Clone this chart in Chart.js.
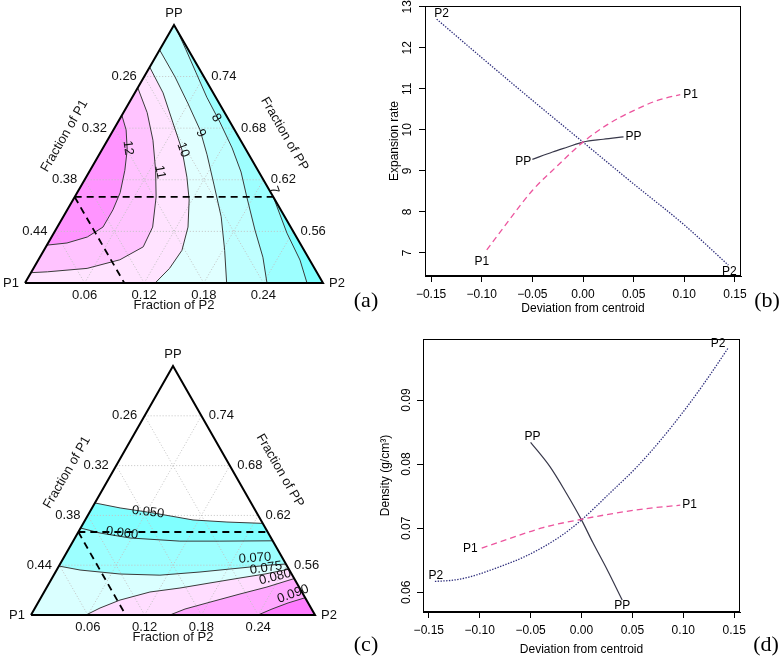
<!DOCTYPE html>
<html>
<head>
<meta charset="utf-8">
<title>Mixture design: expansion rate and density</title>
<script src="https://cdn.jsdelivr.net/npm/chart.js"></script>
<style>
html,body{margin:0;padding:0;background:#ffffff;}
#fig{position:relative;width:780px;height:661px;overflow:hidden;background:#ffffff;}
#fig canvas{position:absolute;display:block;}
.tag{position:absolute;font-family:"Liberation Serif","Times New Roman",serif;font-size:22px;line-height:22px;color:#000;transform:translate(-50%,-50%);white-space:nowrap;}
</style>
</head>
<body>
<div id="fig">
  <canvas id="chartA" width="370" height="320" style="left:0px;top:0px"></canvas>
  <canvas id="chartB" width="410" height="320" style="left:370px;top:0px"></canvas>
  <canvas id="chartC" width="370" height="331" style="left:0px;top:330px"></canvas>
  <canvas id="chartD" width="410" height="331" style="left:370px;top:330px"></canvas>
  <div class="tag" style="left:366px;top:300px">(a)</div>
  <div class="tag" style="left:767px;top:300px">(b)</div>
  <div class="tag" style="left:366px;top:644px">(c)</div>
  <div class="tag" style="left:766px;top:644px">(d)</div>
</div>
<script>
// ================= DATA =================
// Ternary design region (lower-bounded simplex: P1 >= 0.20, P2 >= 0, PP >= 0.50)
const TERN_MIN_P1 = 0.20, TERN_MIN_P2 = 0.00, TERN_MIN_PP = 0.50, TERN_RANGE = 0.30;
const ternP1Ticks = [0.26, 0.32, 0.38, 0.44];
const ternP2Ticks = [0.06, 0.12, 0.18, 0.24];
const ternPPTicks = [0.56, 0.62, 0.68, 0.74];
// dashed trace lines through the centroid, points as [fraction of P2, fraction of PP]
const tracePP = [[0.00, 0.60], [0.20, 0.60]];
const traceP1 = [[0.00, 0.60], [0.10, 0.50]];

// (a) expansion-rate contours, points as [fraction of P2, fraction of PP]
const expLevels = [7, 8, 9, 10, 11, 12];
const expC7  = [[0.200,0.600],[0.2347,0.558],[0.2635,0.5267],[0.2839,0.500]];
const expC8  = [[0.006,0.794],[0.0266,0.771],[0.0495,0.745],[0.075,0.716],[0.1027,0.687],[0.130,0.657],[0.153,0.629],[0.174,0.599],[0.2007,0.5616],[0.2245,0.530],[0.2436,0.500]];
const expC9  = [[0.000,0.771],[0.0313,0.7395],[0.0594,0.709],[0.0872,0.678],[0.1088,0.649],[0.1333,0.614],[0.159,0.577],[0.182,0.538],[0.203,0.500]];
const expC10 = [[0.000,0.751],[0.0285,0.721],[0.056,0.686],[0.0807,0.6547],[0.1015,0.623],[0.117,0.5965],[0.1316,0.565],[0.139,0.538],[0.137,0.517],[0.131,0.500]];
const expC11 = [[0.000,0.727],[0.024,0.698],[0.0458,0.666],[0.066,0.631],[0.082,0.600],[0.096,0.565],[0.098,0.542],[0.082,0.527],[0.054,0.517],[0.016,0.513],[0.000,0.512]];
const expC12 = [[0.000,0.695],[0.0128,0.678],[0.0254,0.655],[0.035,0.631],[0.0433,0.605],[0.046,0.585],[0.046,0.565],[0.036,0.5535],[0.019,0.5465],[0.000,0.544]];
const expContours = [expC7, expC8, expC9, expC10, expC11, expC12];

// (c) density contours, points as [fraction of P2, fraction of PP]
const denLevels = [0.050, 0.060, 0.070, 0.075, 0.080, 0.090];
const denC050 = [[0.000,0.635],[0.0296,0.629],[0.0674,0.623],[0.1139,0.6145],[0.151,0.612],[0.1896,0.6104]];
const denC060 = [[0.000,0.6048],[0.0235,0.5988],[0.0582,0.5928],[0.1128,0.589],[0.155,0.589],[0.2106,0.5894]];
const denC070 = [[0.000,0.559],[0.0247,0.5542],[0.0693,0.5494],[0.1122,0.548],[0.1526,0.5518],[0.1925,0.5566],[0.2223,0.5602],[0.2386,0.5614]];
const denC075 = [[0.0581,0.500],[0.0687,0.5084],[0.085,0.518],[0.1118,0.5277],[0.1411,0.5325],[0.1698,0.5386],[0.1985,0.5446],[0.2225,0.5494],[0.2448,0.5552]];
const denC080 = [[0.1468,0.500],[0.1591,0.5072],[0.1787,0.5145],[0.2081,0.5253],[0.2324,0.5337],[0.2561,0.5439]];
const denC090 = [[0.2398,0.500],[0.251,0.5072],[0.2643,0.5145],[0.2792,0.5208]];
const denContours = [denC050, denC060, denC070, denC075, denC080, denC090];

// (b) expansion rate along the trace directions
const devTicks = [-0.15, -0.10, -0.05, 0.00, 0.05, 0.10, 0.15];
const expRateTicks = [7, 8, 9, 10, 11, 12, 13];
const bP1Dev = [-0.095, -0.075, -0.05, -0.025, 0, 0.025, 0.05, 0.075, 0.096];
const bP1Val = [7.07, 7.73, 8.52, 9.13, 9.70, 10.14, 10.47, 10.73, 10.86];
const bP2Dev = [-0.1445, -0.10, -0.05, 0, 0.05, 0.10, 0.1435];
const bP2Val = [12.70, 11.76, 10.72, 9.70, 8.68, 7.68, 6.70];
const bPPDev = [-0.05, -0.03, -0.015, 0, 0.02, 0.04];
const bPPVal = [9.28, 9.46, 9.58, 9.70, 9.77, 9.83];

// (d) density along the trace directions
const densityTicks = [0.06, 0.07, 0.08, 0.09];
const dP1Dev = [-0.098, -0.0705, -0.0377, 0, 0.0278, 0.0605, 0.097];
const dP1Val = [0.0669, 0.0684, 0.0701, 0.0714, 0.0722, 0.0730, 0.0736];
const dP2Dev = [-0.144, -0.126, -0.110, -0.087, -0.054, -0.021, 0, 0.028, 0.054, 0.077, 0.103, 0.120, 0.133, 0.144];
const dP2Val = [0.0617, 0.0619, 0.0624, 0.0636, 0.0657, 0.0687, 0.0713, 0.0755, 0.0795, 0.0836, 0.0888, 0.0925, 0.0955, 0.0981];
const dPPDev = [-0.050, -0.031, -0.015, 0, 0.011, 0.025, 0.040];
const dPPVal = [0.0834, 0.0796, 0.0755, 0.0713, 0.0678, 0.0636, 0.0588];

// ================= STYLE / LAYOUT =================
const SANS = '"Liberation Sans", Arial, Helvetica, sans-serif';
const SQ3_2 = Math.sqrt(3) / 2;
const V_P1 = [TERN_MIN_P2, TERN_MIN_PP];
const V_P2 = [TERN_MIN_P2 + TERN_RANGE, TERN_MIN_PP];
const V_PP = [TERN_MIN_P2, TERN_MIN_PP + TERN_RANGE];

const EXP_FILL = ['#7DFFFF', '#9DFFFF', '#BFFFFF', '#E0FFFF', '#FFE3FF', '#FFC3FF', '#FF94FF'];
const EXP_EXTRA = [[V_P1, V_PP], [V_P1, V_PP], [V_P1], [V_P1], [], []];
const EXP_LABEL_AT = [[0.1966,0.608],[0.0964,0.692],[0.090,0.674],[0.0818,0.6547],[0.0714,0.629],[0.0252,0.657]];
const EXP_LABEL_ROT = [70, 60, 65, 70, 80, 82];

const DEN_FILL = [null, '#80FFFF', '#9CFFFF', '#DAFFFF', '#FFDDFF', '#FFA8FF', '#FF7CFF'];
const DEN_EXTRA = [[V_P2, V_P1], [V_P2, V_P1], [V_P2, V_P1], [V_P2], [V_P2], [V_P2]];
const DEN_LABEL_AT = [[0.0616,0.624],[0.0467,0.5988],[0.2023,0.5687],[0.2199,0.5566],[0.2349,0.5458],[0.2641,0.5253]];
const DEN_LABEL_ROT = [7, 7, -4, -9, -14, -20];

function ternXY(p2, pp) {
  const t = (pp - TERN_MIN_PP) / TERN_RANGE;
  return { x: (p2 - TERN_MIN_P2) / TERN_RANGE + t / 2, y: t * SQ3_2 };
}
function lineDs(pts, color, width, dash, order) {
  return { data: pts.map(p => ternXY(p[0], p[1])), showLine: true, borderColor: color, borderWidth: width,
           borderDash: dash, pointRadius: 0, fill: false, order: order, tension: 0 };
}
function fillDs(pts, color, order) {
  return { data: pts.map(p => ternXY(p[0], p[1])), showLine: true, borderColor: 'rgba(0,0,0,0)', borderWidth: 1,
           backgroundColor: color, fill: 'shape', pointRadius: 0, order: order, tension: 0 };
}
function ternGrid() {
  const lines = [];
  ternP2Ticks.forEach(v => lines.push([[v, TERN_MIN_PP], [v, 1 - TERN_MIN_P1 - v]]));
  ternPPTicks.forEach(v => lines.push([[TERN_MIN_P2, v], [1 - TERN_MIN_P1 - v, v]]));
  ternP1Ticks.forEach(v => lines.push([[1 - v - TERN_MIN_PP, TERN_MIN_PP], [TERN_MIN_P2, 1 - v - TERN_MIN_P2]]));
  return lines;
}
function ternText(cfg) {
  return {
    id: 'ternText',
    afterDatasetsDraw(chart) {
      const ctx = chart.ctx, X = chart.scales.x, Y = chart.scales.y;
      const at = (p2, pp) => { const q = ternXY(p2, pp); return [X.getPixelForValue(q.x), Y.getPixelForValue(q.y)]; };
      ctx.save();
      ctx.fillStyle = '#111';
      ctx.font = '13px ' + SANS;
      ctx.textBaseline = 'middle';
      ctx.textAlign = 'center';
      ternP1Ticks.forEach(v => { const [x, y] = at(TERN_MIN_P2, 1 - v - TERN_MIN_P2); ctx.fillText(v.toFixed(2), x - 20, y); });
      ternPPTicks.forEach(v => { const [x, y] = at(1 - TERN_MIN_P1 - v, v); ctx.fillText(v.toFixed(2), x + 20, y); });
      ternP2Ticks.forEach(v => { const [x, y] = at(v, TERN_MIN_PP); ctx.fillText(v.toFixed(2), x, y + 12); });
      const a1 = at(V_P1[0], V_P1[1]), a2 = at(V_P2[0], V_P2[1]), a3 = at(V_PP[0], V_PP[1]);
      ctx.fillText('PP', a3[0], a3[1] - 12);
      ctx.textAlign = 'right'; ctx.fillText('P1', a1[0] - 6, a1[1]);
      ctx.textAlign = 'left'; ctx.fillText('P2', a2[0] + 6, a2[1]);
      ctx.textAlign = 'center';
      ctx.fillText('Fraction of P2', (a1[0] + a2[0]) / 2, a1[1] + 22);
      ctx.save(); ctx.translate((a1[0] + a3[0]) / 2 - 35, (a1[1] + a3[1]) / 2 - 18); ctx.rotate(-Math.PI / 3);
      ctx.fillText('Fraction of P1', 0, 0); ctx.restore();
      ctx.save(); ctx.translate((a2[0] + a3[0]) / 2 + 36, (a2[1] + a3[1]) / 2 - 20); ctx.rotate(Math.PI / 3);
      ctx.fillText('Fraction of PP', 0, 0); ctx.restore();
      cfg.levels.forEach((lev, i) => {
        const [cx, cy] = at(cfg.labelAt[i][0], cfg.labelAt[i][1]);
        ctx.save(); ctx.translate(cx, cy); ctx.rotate(cfg.labelRot[i] * Math.PI / 180);
        ctx.fillText(cfg.fmt(lev), 0, 0); ctx.restore();
      });
      ctx.restore();
    }
  };
}
function buildTernary(id, geom, cfg) {
  const ds = [];
  ds.push(lineDs([V_P1, V_P2, V_PP, V_P1], '#000', 2, [], 0));
  ds.push(lineDs(tracePP, '#000', 1.8, [7, 5], 1));
  ds.push(lineDs(traceP1, '#000', 1.8, [7, 5], 1));
  cfg.contours.forEach(c => ds.push(lineDs(c, '#3a3a3a', 1, [], 2)));
  ternGrid().forEach(g => ds.push(lineDs(g, '#c2c2c2', 1, [1, 2], 3)));
  cfg.contours.forEach((c, i) => {
    if (cfg.fills[i + 1]) ds.push(fillDs(c.concat(cfg.extras[i]), cfg.fills[i + 1], 10 - i));
  });
  if (cfg.fills[0]) ds.push(fillDs([V_P1, V_P2, V_PP], cfg.fills[0], 20));
  return new Chart(document.getElementById(id), {
    type: 'scatter',
    data: { datasets: ds },
    options: {
      responsive: false, animation: false, devicePixelRatio: 1, events: [],
      layout: { padding: 0 },
      plugins: { legend: { display: false }, tooltip: { enabled: false } },
      scales: {
        x: { type: 'linear', display: false, min: -geom.ox / geom.sx, max: (geom.w - geom.ox) / geom.sx },
        y: { type: 'linear', display: false, min: -(geom.h - geom.oy) / geom.sy, max: geom.oy / geom.sy }
      }
    },
    plugins: [ternText(cfg)]
  });
}

const boxPlugin = {
  id: 'box',
  afterDraw(chart) {
    const a = chart.chartArea, ctx = chart.ctx;
    ctx.save(); ctx.strokeStyle = '#000'; ctx.lineWidth = 1;
    ctx.strokeRect(Math.round(a.left) + 0.5, Math.round(a.top) + 0.5, Math.round(a.right - a.left) - 1, Math.round(a.bottom - a.top) - 1);
    ctx.restore();
  }
};
function endLabels(list) {
  return {
    id: 'endLabels',
    afterDatasetsDraw(chart) {
      const ctx = chart.ctx, X = chart.scales.x, Y = chart.scales.y;
      ctx.save(); ctx.font = '12px ' + SANS; ctx.fillStyle = '#000'; ctx.textBaseline = 'middle';
      list.forEach(l => {
        const d = chart.data.datasets[l.ds].data;
        const p = l.end === 'first' ? d[0] : d[d.length - 1];
        ctx.textAlign = l.align;
        ctx.fillText(l.text, X.getPixelForValue(p.x) + l.dx, Y.getPixelForValue(p.y) + l.dy);
      });
      ctx.restore();
    }
  };
}
function fmtDev(v) { return (v < -1e-9 ? '\u2212' : '') + Math.abs(v).toFixed(2); }
function buildLine(id, cfg) {
  const font = { family: SANS, size: 12 };
  return new Chart(document.getElementById(id), {
    type: 'scatter',
    data: { datasets: cfg.series.map(s => ({
      data: s.x.map((v, i) => ({ x: v, y: s.y[i] })), showLine: true, borderColor: s.color, borderWidth: s.width,
      borderDash: s.dash, pointRadius: 0, fill: false, cubicInterpolationMode: 'monotone' })) },
    options: {
      responsive: false, animation: false, devicePixelRatio: 1, events: [],
      layout: { padding: cfg.pad },
      plugins: { legend: { display: false }, tooltip: { enabled: false } },
      scales: {
        x: {
          type: 'linear', min: cfg.xMin, max: cfg.xMax,
          afterBuildTicks: s => { s.ticks = cfg.xTicks.map(v => ({ value: v })); },
          afterFit: s => { s.height = cfg.xAxisH; s.paddingLeft = 0; s.paddingRight = 0; s.paddingTop = 0; s.paddingBottom = 0; },
          grid: { display: true, drawOnChartArea: false, drawTicks: true, tickLength: 6, color: '#000', tickColor: '#000', lineWidth: 1 },
          border: { display: true, color: '#000', width: 1 },
          ticks: { autoSkip: false, maxRotation: 0, minRotation: 0, padding: 5, color: '#000', font: font, callback: v => fmtDev(v) },
          title: { display: true, text: cfg.xTitle, color: '#000', font: font, padding: { top: 0, bottom: cfg.xTitlePad } }
        },
        y: {
          type: 'linear', min: cfg.yMin, max: cfg.yMax,
          afterBuildTicks: s => { s.ticks = cfg.yTicks.map(v => ({ value: v })); },
          afterFit: s => { s.width = cfg.yAxisW; s.paddingLeft = 0; s.paddingRight = 0; s.paddingTop = 0; s.paddingBottom = 0; },
          grid: { display: true, drawOnChartArea: false, drawTicks: true, tickLength: 6, color: '#000', tickColor: '#000', lineWidth: 1 },
          border: { display: true, color: '#000', width: 1 },
          ticks: { autoSkip: false, minRotation: 90, maxRotation: 90, crossAlign: 'center', padding: cfg.yTickPad, color: '#000', font: font, callback: cfg.yFmt },
          title: { display: true, text: cfg.yTitle, color: '#000', font: font, padding: { top: cfg.yTitlePad, bottom: 0 } }
        }
      }
    },
    plugins: [boxPlugin, endLabels(cfg.labels)]
  });
}

// ================= CHARTS =================
const P1_STYLE = { color: '#EC559E', width: 1.3, dash: [6, 4] };
const P2_STYLE = { color: '#2E2E7C', width: 1.3, dash: [1.4, 1.4] };
const PP_STYLE = { color: '#38384A', width: 1.2, dash: [] };

buildTernary('chartA', { w: 370, h: 320, ox: 25, oy: 283, sx: 298, sy: 298 }, {
  contours: expContours, levels: expLevels, fills: EXP_FILL, extras: EXP_EXTRA,
  labelAt: EXP_LABEL_AT, labelRot: EXP_LABEL_ROT, fmt: v => String(v)
});
buildTernary('chartC', { w: 370, h: 331, ox: 31, oy: 285, sx: 284, sy: 287.5 }, {
  contours: denContours, levels: denLevels, fills: DEN_FILL, extras: DEN_EXTRA,
  labelAt: DEN_LABEL_AT, labelRot: DEN_LABEL_ROT, fmt: v => v.toFixed(3)
});

buildLine('chartB', {
  series: [
    Object.assign({ x: bP1Dev, y: bP1Val }, P1_STYLE),
    Object.assign({ x: bP2Dev, y: bP2Val }, P2_STYLE),
    Object.assign({ x: bPPDev, y: bPPVal }, PP_STYLE)
  ],
  pad: { left: 0, top: 6, right: 39, bottom: 0 },
  xMin: -0.156, xMax: 0.156, yMin: 6.435, yMax: 13.02,
  xTicks: devTicks, yTicks: expRateTicks, yFmt: v => String(v),
  xAxisH: 44, yAxisW: 55, yTickPad: 4.3, xTitlePad: 3.8, yTitlePad: 17.8,
  xTitle: 'Deviation from centroid', yTitle: 'Expansion rate',
  labels: [
    { ds: 0, end: 'first', text: 'P1', align: 'center', dx: -5, dy: 12 },
    { ds: 0, end: 'last', text: 'P1', align: 'left', dx: 3, dy: 0 },
    { ds: 1, end: 'first', text: 'P2', align: 'center', dx: 5, dy: -5 },
    { ds: 1, end: 'last', text: 'P2', align: 'center', dx: 1, dy: 7 },
    { ds: 2, end: 'first', text: 'PP', align: 'right', dx: -1, dy: 2 },
    { ds: 2, end: 'last', text: 'PP', align: 'left', dx: 2, dy: 0 }
  ]
});

buildLine('chartD', {
  series: [
    Object.assign({ x: dP1Dev, y: dP1Val }, P1_STYLE),
    Object.assign({ x: dP2Dev, y: dP2Val }, P2_STYLE),
    Object.assign({ x: dPPDev, y: dPPVal }, PP_STYLE)
  ],
  pad: { left: 0, top: 9, right: 40, bottom: 0 },
  xMin: -0.1557, xMax: 0.1557, yMin: 0.05693, yMax: 0.09952,
  xTicks: devTicks, yTicks: densityTicks, yFmt: v => v.toFixed(2),
  xAxisH: 49, yAxisW: 53, yTickPad: -1.1, xTitlePad: 3.8, yTitlePad: 8.5,
  xTitle: 'Deviation from centroid', yTitle: 'Density (g/cm\u00B3)',
  labels: [
    { ds: 0, end: 'first', text: 'P1', align: 'right', dx: -4, dy: 1 },
    { ds: 0, end: 'last', text: 'P1', align: 'left', dx: 2, dy: 0 },
    { ds: 1, end: 'first', text: 'P2', align: 'center', dx: 1, dy: -6 },
    { ds: 1, end: 'last', text: 'P2', align: 'center', dx: -10, dy: -4 },
    { ds: 2, end: 'first', text: 'PP', align: 'center', dx: 2, dy: -6 },
    { ds: 2, end: 'last', text: 'PP', align: 'center', dx: 0, dy: 6 }
  ]
});
</script>
</body>
</html>
